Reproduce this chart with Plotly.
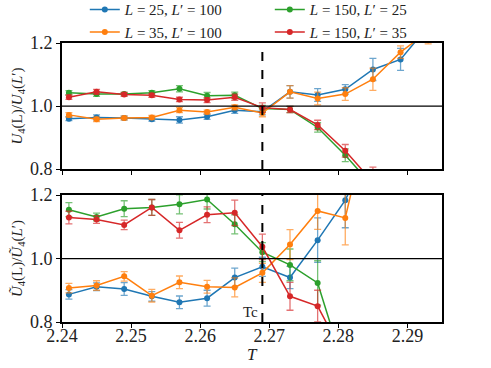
import plotly.graph_objects as go
from plotly.subplots import make_subplots

# temperatures
T = [2.241, 2.245, 2.249, 2.253, 2.257, 2.261, 2.265, 2.269,
     2.273, 2.277, 2.281, 2.285, 2.289, 2.293]
Tc = 2.269

labels = ["<i>L</i> = 25, <i>L</i>′ = 100", "<i>L</i> = 150, <i>L</i>′ = 25",
          "<i>L</i> = 35, <i>L</i>′ = 100", "<i>L</i> = 150, <i>L</i>′ = 35"]
colors = ["#1f77b4", "#2ca02c", "#ff7f0e", "#d62728"]
errcolors = ["rgba(31,119,180,0.65)", "rgba(44,160,44,0.65)",
             "rgba(255,127,14,0.65)", "rgba(214,39,40,0.65)"]

# top panel: U4(L)/U4(L')
u_blue = [0.960, 0.964, 0.962, 0.958, 0.956, 0.966, 0.987, 0.982, 1.045, 1.035, 1.053, 1.116, 1.148, 1.253]
u_blue_err = [0.006, 0.008, 0.006, 0.006, 0.01, 0.008, 0.01, 0.01, 0.02, 0.02, 0.015, 0.035, 0.035, 0.04]
u_green = [1.042, 1.038, 1.038, 1.042, 1.055, 1.033, 1.034, 0.992, 0.989, 0.932, 0.844, 0.747, 0.65, 0.55]
u_green_err = [0.007, 0.007, 0.005, 0.007, 0.01, 0.01, 0.01, 0.01, 0.01, 0.015, 0.02, 0.03, 0.04, 0.05]
u_orange = [0.972, 0.958, 0.962, 0.964, 0.987, 0.981, 0.996, 0.978, 1.045, 1.024, 1.038, 1.085, 1.171, 1.237]
u_orange_err = [0.007, 0.007, 0.006, 0.006, 0.008, 0.006, 0.008, 0.012, 0.02, 0.02, 0.02, 0.035, 0.02, 0.04]
u_red = [1.028, 1.045, 1.037, 1.034, 1.021, 1.019, 1.028, 0.995, 0.989, 0.940, 0.858, 0.766, 0.66, 0.56]
u_red_err = [0.007, 0.008, 0.006, 0.006, 0.007, 0.008, 0.01, 0.015, 0.01, 0.015, 0.02, 0.04, 0.04, 0.05]

# bottom panel: U~4(L)/U~4(L')
t_blue = [0.887, 0.911, 0.904, 0.881, 0.862, 0.875, 0.940, 0.974, 0.940, 1.058, 1.184, 1.37, 1.5, 1.6]
t_blue_err = [0.015, 0.012, 0.02, 0.015, 0.02, 0.025, 0.03, 0.03, 0.035, 0.07, 0.087, 0.1, 0.1, 0.1]
t_green = [1.154, 1.131, 1.157, 1.161, 1.171, 1.186, 1.108, 1.020, 0.980, 0.923, 0.644, 0.5, 0.4, 0.3]
t_green_err = [0.022, 0.012, 0.025, 0.025, 0.03, 0.03, 0.03, 0.03, 0.05, 0.07, 0.1, 0.1, 0.1, 0.1]
t_orange = [0.907, 0.915, 0.944, 0.883, 0.925, 0.911, 0.909, 0.955, 1.044, 1.150, 1.128, 1.5, 1.6, 1.7]
t_orange_err = [0.015, 0.015, 0.015, 0.02, 0.02, 0.02, 0.03, 0.03, 0.047, 0.058, 0.085, 0.1, 0.1, 0.1]
t_red = [1.129, 1.123, 1.106, 1.161, 1.089, 1.138, 1.144, 1.037, 0.881, 0.850, 0.685, 0.5, 0.4, 0.3]
t_red_err = [0.02, 0.012, 0.015, 0.025, 0.025, 0.025, 0.04, 0.04, 0.044, 0.05, 0.07, 0.1, 0.1, 0.1]

top = [(u_blue, u_blue_err), (u_green, u_green_err), (u_orange, u_orange_err), (u_red, u_red_err)]
bottom = [(t_blue, t_blue_err), (t_green, t_green_err), (t_orange, t_orange_err), (t_red, t_red_err)]

FONT = "Liberation Serif"

fig = make_subplots(rows=2, cols=1, shared_xaxes=True, vertical_spacing=0.0)

for row, series in [(1, top), (2, bottom)]:
    for i, (vals, errs) in enumerate(series):
        fig.add_trace(go.Scatter(
            x=T, y=vals, mode="lines+markers", name=labels[i],
            showlegend=(row == 1),
            line=dict(color=colors[i], width=1.5),
            marker=dict(color=colors[i], size=6),
            error_y=dict(type="data", array=errs, color=errcolors[i],
                         thickness=1.3, width=3.5),
        ), row=row, col=1)

for r, yref in [(1, "y"), (2, "y2")]:
    xref = "x" if r == 1 else "x2"
    # horizontal line at 1
    fig.add_shape(type="line", xref=xref + " domain", yref=yref,
                  x0=0, x1=1, y0=1, y1=1, line=dict(color="black", width=1.3))
    # Tc dashed line
    fig.add_shape(type="line", xref=xref, yref=yref + " domain",
                  x0=Tc, x1=Tc, y0=0, y1=1,
                  line=dict(color="black", width=2, dash="dash"))

fig.add_annotation(x=Tc, y=0.8, xref="x2", yref="y2", text="Tc",
                   showarrow=False, xanchor="right", yanchor="bottom",
                   xshift=-2, yshift=0, font=dict(family=FONT, size=15, color="#222"))
# x axis label
fig.add_annotation(x=0.5, y=0, xref="x2 domain", yref="y2 domain", text="<i>T</i>",
                   showarrow=False, xanchor="center", yanchor="middle", yshift=-32,
                   font=dict(family=FONT, size=17, color="#222"))

axis_common = dict(showline=True, linecolor="black", linewidth=2, mirror=True,
                   ticks="outside", ticklen=4, tickwidth=1.2, tickcolor="black",
                   showgrid=False, zeroline=False, automargin=False,
                   tickfont=dict(family=FONT, size=18, color="#222"))

fig.update_xaxes(range=[2.24, 2.295], tickvals=[2.24, 2.25, 2.26, 2.27, 2.28, 2.29],
                 ticklabelstandoff=-8, **axis_common)
fig.update_xaxes(showticklabels=False, row=1, col=1)
fig.update_xaxes(ticktext=["2.24", "2.25", "2.26", "2.27", "2.28", "2.29"], row=2, col=1)
fig.update_yaxes(range=[0.8, 1.2], tickvals=[0.8, 1.0, 1.2], ticktext=["0.8", "1.0", "1.2"],
                 **axis_common)
fig.update_yaxes(title=dict(text="<i>U</i><sub>4</sub>(L)/<i>U</i><sub>4</sub>(<i>L</i>′)",
                            font=dict(family=FONT, size=15, color="#222"), standoff=4),
                 domain=[0.548, 1.0], row=1, col=1)
fig.update_yaxes(title=dict(text="<i>Ũ</i><sub>4</sub>(L)/<i>Ũ</i><sub>4</sub>(<i>L</i>′)",
                            font=dict(family=FONT, size=15, color="#222"), standoff=4),
                 domain=[0.0, 0.455], row=2, col=1)

fig.update_layout(
    width=491, height=368, autosize=False,
    margin=dict(l=62, r=49, t=43, b=46, autoexpand=False),
    paper_bgcolor="white", plot_bgcolor="white",
    legend=dict(orientation="h", x=0.06, y=1.178, xanchor="left", yanchor="top",
                entrywidth=140, entrywidthmode="pixels",
                font=dict(family=FONT, size=15, color="#222"),
                bgcolor="rgba(255,255,255,0)", tracegroupgap=0),
)

# the page body has a default 8px margin; drop it so the figure sits at the corner
fig.write_html("out.html", config={"displayModeBar": False},
               post_script="document.body.style.margin='0';")
